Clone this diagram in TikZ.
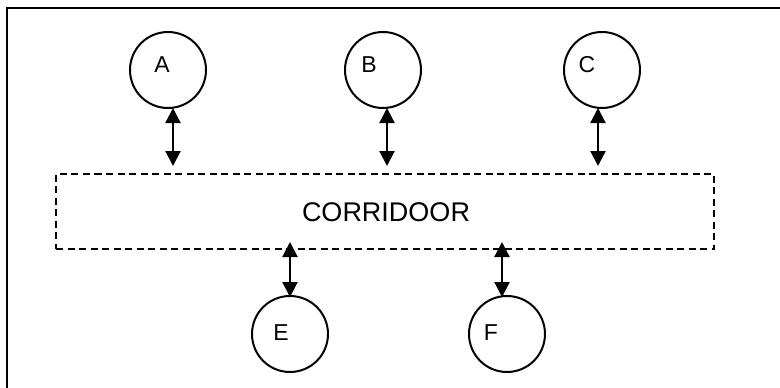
\documentclass[tikz,border=0pt]{standalone}
\usepackage{fontspec}
\setmainfont{Liberation Sans}
\usetikzlibrary{arrows.meta}
\begin{document}
\begin{tikzpicture}[x=1pt,y=-1pt,
  room/.style={circle,draw,line width=2pt,minimum size=76pt,inner sep=0pt},
  rlabel/.style={font=\fontsize{23}{23}\selectfont},
  link/.style={line width=2.2pt,{Triangle[length=15pt,width=15pt]}-{Triangle[length=15pt,width=15pt]}},
  corr/.style={draw,dash pattern=on 7pt off 4.5pt,line width=2.2pt,minimum width=658pt,minimum height=75pt,inner sep=0pt}]
\useasboundingbox (0,0) rectangle (780,388);
\begin{scope}
\clip (0,0) rectangle (780,388);
\draw[line width=2.8pt] (7,8) rectangle (800,400);
\end{scope}
\node[corr] (cor) at (385,211.5) {};
\node[font=\fontsize{27}{27}\selectfont] (ct) at (386,212) {CORRIDOOR};
\node[room] (A) at (168,70) {};
\node[room] (B) at (383,70) {};
\node[room] (C) at (602,70) {};
\node[room] (E) at (290,334) {};
\node[room] (F) at (507,334) {};
\node[rlabel] (tA) at (162,65) {A};
\node[rlabel] (tB) at (369,65) {B};
\node[rlabel] (tC) at (587,65) {C};
\node[rlabel] (tE) at (281,333) {E};
\node[rlabel] (tF) at (491,333) {F};
\coordinate (a1) at (173,108);
\coordinate (a2) at (173,166);
\coordinate (b1) at (387,108);
\coordinate (b2) at (387,166);
\coordinate (c1) at (598,108);
\coordinate (c2) at (598,166);
\coordinate (e1) at (290,242);
\coordinate (e2) at (290,297);
\coordinate (f1) at (502,242);
\coordinate (f2) at (502,297);
\draw[link] (a1) -- (a2);
\draw[link] (b1) -- (b2);
\draw[link] (c1) -- (c2);
\draw[link] (e1) -- (e2);
\draw[link] (f1) -- (f2);
\end{tikzpicture}
\end{document}
